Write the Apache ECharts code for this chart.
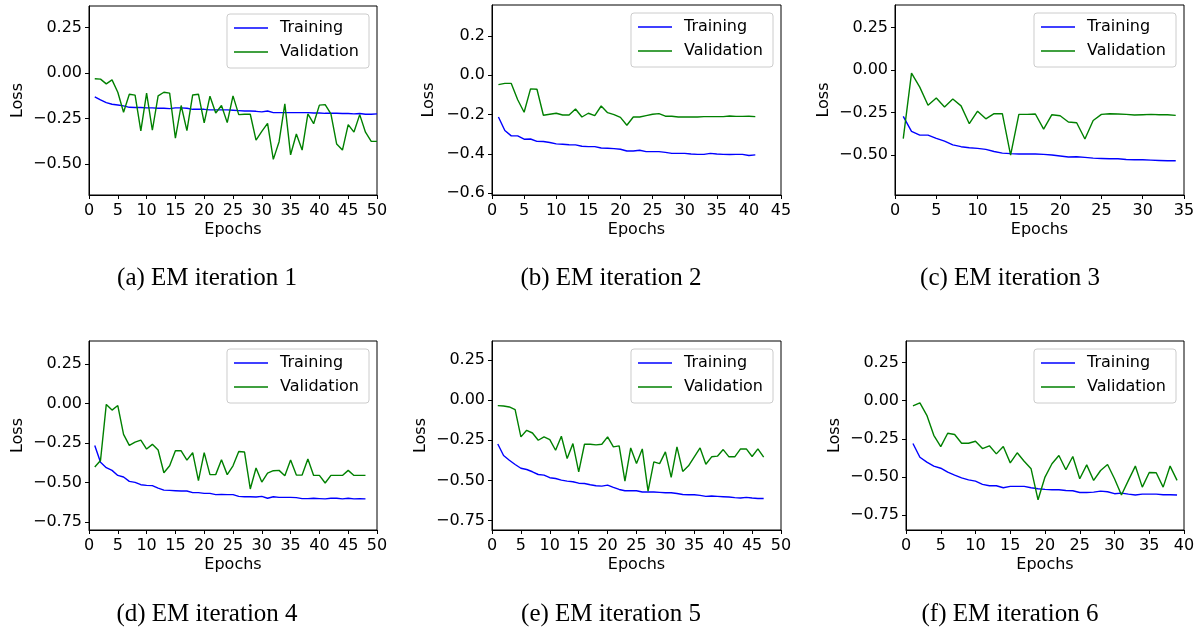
<!DOCTYPE html>
<html>
<head>
<meta charset="utf-8">
<script src="https://cdn.jsdelivr.net/npm/echarts@6/dist/echarts.min.js"></script>
<style>
html,body{margin:0;padding:0;background:#fff;}
#chart{width:1198px;height:630px;}
</style>
</head>
<body>
<div id="chart"></div>
<script>
// ---- Data ----
const captions = ['(a) EM iteration 1','(b) EM iteration 2','(c) EM iteration 3','(d) EM iteration 4','(e) EM iteration 5','(f) EM iteration 6'];
const seriesNames = ['Training','Validation'];

const trainA = [-0.130,-0.147,-0.162,-0.171,-0.175,-0.180,-0.188,-0.189,-0.189,-0.191,-0.191,-0.193,-0.193,-0.195,-0.191,-0.191,-0.193,-0.199,-0.199,-0.199,-0.202,-0.202,-0.202,-0.202,-0.204,-0.206,-0.208,-0.208,-0.210,-0.213,-0.208,-0.217,-0.217,-0.217,-0.217,-0.217,-0.217,-0.217,-0.219,-0.219,-0.221,-0.221,-0.221,-0.222,-0.222,-0.224,-0.222,-0.226,-0.226,-0.224];
const valA = [-0.031,-0.033,-0.059,-0.037,-0.105,-0.215,-0.116,-0.121,-0.318,-0.110,-0.314,-0.125,-0.105,-0.110,-0.358,-0.178,-0.316,-0.120,-0.116,-0.274,-0.127,-0.219,-0.178,-0.272,-0.125,-0.228,-0.226,-0.226,-0.368,-0.320,-0.276,-0.474,-0.377,-0.169,-0.449,-0.335,-0.423,-0.224,-0.278,-0.176,-0.173,-0.224,-0.390,-0.423,-0.283,-0.324,-0.228,-0.325,-0.375,-0.375];

const trainB = [-0.212,-0.281,-0.308,-0.308,-0.325,-0.324,-0.336,-0.337,-0.342,-0.349,-0.351,-0.353,-0.354,-0.361,-0.363,-0.363,-0.370,-0.371,-0.373,-0.376,-0.385,-0.385,-0.381,-0.388,-0.388,-0.388,-0.392,-0.397,-0.397,-0.397,-0.400,-0.402,-0.402,-0.397,-0.400,-0.402,-0.403,-0.402,-0.402,-0.408,-0.405];
const valB = [-0.047,-0.041,-0.041,-0.124,-0.188,-0.069,-0.071,-0.203,-0.198,-0.193,-0.202,-0.202,-0.171,-0.212,-0.193,-0.205,-0.156,-0.190,-0.200,-0.214,-0.254,-0.212,-0.212,-0.205,-0.198,-0.195,-0.208,-0.208,-0.212,-0.212,-0.212,-0.212,-0.210,-0.210,-0.210,-0.210,-0.207,-0.209,-0.209,-0.208,-0.210];

const trainC = [-0.272,-0.360,-0.382,-0.382,-0.401,-0.417,-0.439,-0.450,-0.456,-0.460,-0.466,-0.478,-0.488,-0.491,-0.493,-0.493,-0.493,-0.495,-0.499,-0.505,-0.511,-0.509,-0.513,-0.517,-0.519,-0.521,-0.521,-0.525,-0.527,-0.527,-0.529,-0.531,-0.533,-0.533];
const valC = [-0.403,-0.018,-0.100,-0.206,-0.164,-0.217,-0.170,-0.210,-0.315,-0.241,-0.286,-0.256,-0.256,-0.499,-0.260,-0.260,-0.258,-0.347,-0.262,-0.268,-0.305,-0.309,-0.405,-0.296,-0.260,-0.256,-0.258,-0.260,-0.264,-0.262,-0.260,-0.262,-0.262,-0.266];

const trainD = [-0.266,-0.373,-0.407,-0.424,-0.456,-0.466,-0.494,-0.500,-0.515,-0.519,-0.521,-0.536,-0.549,-0.551,-0.553,-0.555,-0.555,-0.565,-0.565,-0.570,-0.570,-0.578,-0.576,-0.578,-0.578,-0.589,-0.591,-0.591,-0.593,-0.589,-0.601,-0.591,-0.595,-0.595,-0.595,-0.597,-0.603,-0.603,-0.601,-0.603,-0.605,-0.601,-0.601,-0.605,-0.601,-0.605,-0.603,-0.605];
const valD = [-0.403,-0.361,-0.006,-0.042,-0.013,-0.196,-0.266,-0.245,-0.232,-0.289,-0.259,-0.295,-0.439,-0.395,-0.300,-0.300,-0.359,-0.312,-0.489,-0.312,-0.451,-0.451,-0.357,-0.451,-0.395,-0.304,-0.308,-0.542,-0.409,-0.498,-0.441,-0.426,-0.424,-0.458,-0.359,-0.454,-0.454,-0.352,-0.456,-0.456,-0.504,-0.456,-0.456,-0.456,-0.424,-0.456,-0.456,-0.456];

const trainE = [-0.273,-0.345,-0.374,-0.401,-0.424,-0.432,-0.446,-0.463,-0.467,-0.483,-0.488,-0.498,-0.504,-0.508,-0.517,-0.519,-0.527,-0.533,-0.535,-0.529,-0.543,-0.556,-0.564,-0.564,-0.564,-0.572,-0.572,-0.572,-0.574,-0.576,-0.576,-0.581,-0.587,-0.589,-0.589,-0.593,-0.599,-0.597,-0.599,-0.601,-0.603,-0.607,-0.609,-0.605,-0.609,-0.612,-0.612];
const valE = [-0.035,-0.037,-0.043,-0.060,-0.229,-0.188,-0.205,-0.250,-0.229,-0.246,-0.312,-0.225,-0.364,-0.271,-0.446,-0.275,-0.275,-0.279,-0.275,-0.229,-0.291,-0.285,-0.504,-0.298,-0.395,-0.304,-0.566,-0.384,-0.395,-0.322,-0.481,-0.291,-0.444,-0.409,-0.353,-0.298,-0.399,-0.353,-0.349,-0.308,-0.353,-0.353,-0.304,-0.304,-0.351,-0.304,-0.355];

const trainF = [-0.281,-0.371,-0.403,-0.429,-0.443,-0.469,-0.488,-0.506,-0.519,-0.528,-0.549,-0.558,-0.558,-0.571,-0.562,-0.562,-0.562,-0.571,-0.578,-0.582,-0.584,-0.584,-0.589,-0.591,-0.602,-0.602,-0.600,-0.593,-0.597,-0.610,-0.606,-0.613,-0.619,-0.613,-0.613,-0.613,-0.617,-0.617,-0.619];
const valF = [-0.035,-0.015,-0.096,-0.227,-0.301,-0.214,-0.222,-0.279,-0.279,-0.266,-0.314,-0.296,-0.349,-0.301,-0.408,-0.342,-0.397,-0.447,-0.650,-0.501,-0.414,-0.360,-0.453,-0.366,-0.512,-0.421,-0.523,-0.458,-0.419,-0.512,-0.619,-0.523,-0.429,-0.567,-0.471,-0.473,-0.567,-0.429,-0.523];

const yTicksA = [0.25, 0, -0.25, -0.5];
const yTicksB = [0.2, 0, -0.2, -0.4, -0.6];
const yTicksC = [0.25, 0, -0.25, -0.5];
const yTicksD = [0.25, 0, -0.25, -0.5, -0.75];
const yTicksE = [0.25, 0, -0.25, -0.5, -0.75];
const yTicksF = [0.25, 0, -0.25, -0.5, -0.75];

const xMaxes = [50, 45, 35, 50, 50, 40];
const yMins = [-0.67, -0.609, -0.734, -0.802, -0.808, -0.848];
const yMaxes = [0.369, 0.358, 0.383, 0.396, 0.367, 0.391];
const yDecimals = [2, 1, 2, 2, 2, 2];

// ---- Layout ----
const trains = [trainA, trainB, trainC, trainD, trainE, trainF];
const vals = [valA, valB, valC, valD, valE, valF];
const yTicks = [yTicksA, yTicksB, yTicksC, yTicksD, yTicksE, yTicksF];
const grids = [
  {left: 89, top: 6, width: 288, height: 189},
  {left: 492, top: 5, width: 289, height: 190},
  {left: 895, top: 5, width: 289, height: 190},
  {left: 89, top: 341, width: 288, height: 189},
  {left: 492, top: 341, width: 289, height: 189},
  {left: 906, top: 341, width: 278, height: 189}
];
const captionPos = [[207, 278], [611, 278], [1010, 278], [207, 614], [611, 614], [1010, 614]];
const FONT = 'DejaVu Sans';
const FS = 16;
const TEXT_COLOR = '#000';

function fmt(v, d) {
  const s = Math.abs(v).toFixed(d);
  return (v < -1e-9 ? '\u2212' : '') + s;
}

const option = {
  backgroundColor: '#fff',
  animation: false,
  grid: grids.map(g => Object.assign({show: true, borderColor: '#000', borderWidth: 1, containLabel: false}, g)),
  xAxis: grids.map((g, i) => ({
    type: 'value', gridIndex: i, min: 0, max: xMaxes[i], interval: 5,
    name: 'Epochs', nameLocation: 'middle', nameGap: 27,
    nameTextStyle: {fontFamily: FONT, fontSize: FS, color: TEXT_COLOR},
    axisLine: {show: true, onZero: false, lineStyle: {color: '#000', width: 1}},
    axisTick: {show: true, inside: false, length: 4, lineStyle: {color: '#000'}},
    axisLabel: {show: true, margin: 8, fontFamily: FONT, fontSize: FS, color: TEXT_COLOR, showMinLabel: true, showMaxLabel: true},
    splitLine: {show: false}
  })),
  yAxis: grids.map((g, i) => ({
    type: 'value', gridIndex: i, min: yMins[i], max: yMaxes[i],
    name: 'Loss', nameLocation: 'middle', nameRotate: 90, nameGap: yDecimals[i] === 1 ? 55 : 63,
    nameTextStyle: {fontFamily: FONT, fontSize: FS, color: TEXT_COLOR},
    axisLine: {show: true, onZero: false, lineStyle: {color: '#000', width: 1}},
    axisTick: {show: true, inside: false, length: 4, lineStyle: {color: '#000'}, customValues: yTicks[i]},
    axisLabel: {show: true, margin: 7, fontFamily: FONT, fontSize: FS, color: TEXT_COLOR, customValues: yTicks[i],
      formatter: (v) => fmt(v, yDecimals[i])},
    splitLine: {show: false}
  })),
  legend: grids.map((g, i) => ({
    orient: 'vertical',
    right: 1198 - (g.left + g.width - 8),
    top: g.top + 8,
    data: seriesNames,
    icon: 'rect',
    itemWidth: 34, itemHeight: 1.6, itemGap: 8,
    padding: [6, 10, 8, 7],
    backgroundColor: 'rgba(255,255,255,0.8)',
    borderColor: '#cccccc', borderWidth: 1, borderRadius: 3,
    textStyle: {fontFamily: FONT, fontSize: FS, color: TEXT_COLOR, lineHeight: 16, padding: [0, 0, 0, 7]},
    selectedMode: false
  })),
  series: [],
  graphic: captions.map((c, i) => ({
    type: 'text', x: captionPos[i][0], y: captionPos[i][1],
    style: {text: c, font: '25px "Liberation Serif"', fill: '#000', align: 'center', verticalAlign: 'middle'}
  }))
};

for (let i = 0; i < 6; i++) {
  option.series.push({
    name: 'Training', type: 'line', xAxisIndex: i, yAxisIndex: i,
    data: trains[i].map((v, k) => [k + 1, v]),
    symbol: 'none', lineStyle: {color: '#0000ff', width: 1.4}, itemStyle: {color: '#0000ff'}
  });
  option.series.push({
    name: 'Validation', type: 'line', xAxisIndex: i, yAxisIndex: i,
    data: vals[i].map((v, k) => [k + 1, v]),
    symbol: 'none', lineStyle: {color: '#008000', width: 1.4}, itemStyle: {color: '#008000'}
  });
}

const chart = echarts.init(document.getElementById('chart'), null, {renderer: 'canvas'});
chart.setOption(option);
</script>
</body>
</html>
